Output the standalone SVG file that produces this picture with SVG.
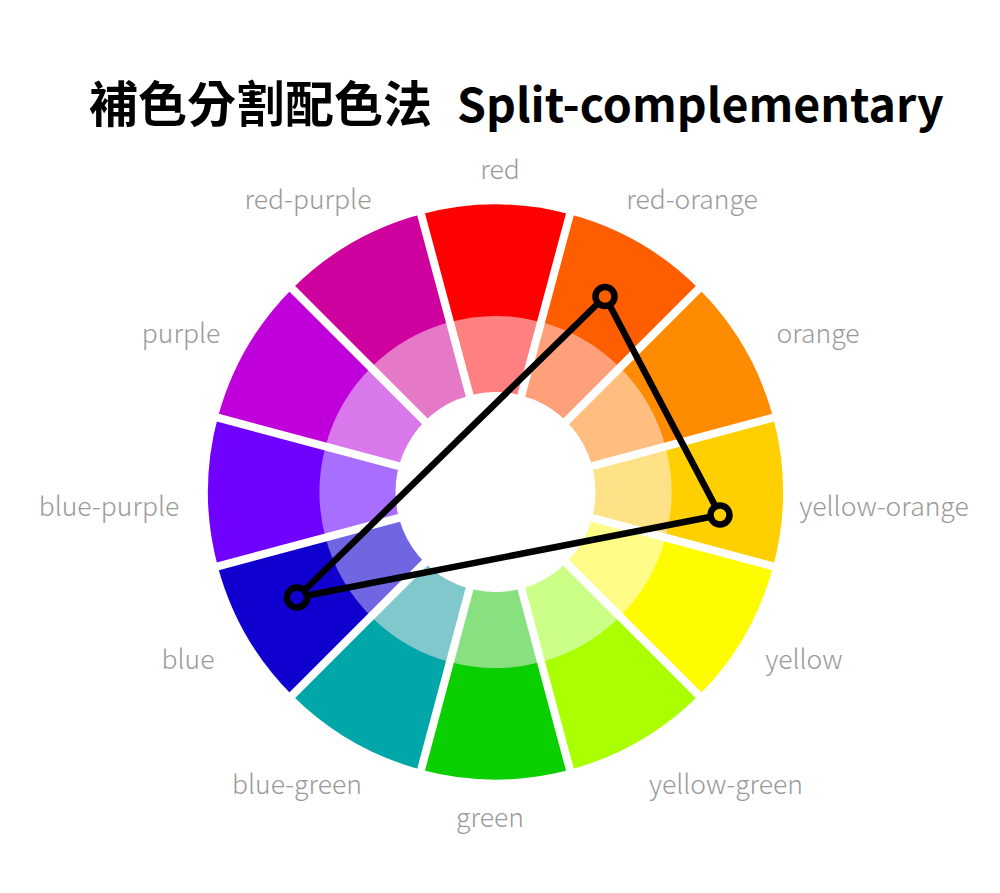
<svg xmlns="http://www.w3.org/2000/svg" width="1000" height="893" viewBox="0 0 1000 893">
<style>
.title{font-family:"Noto Sans CJK TC","Noto Sans CJK JP","Liberation Sans",sans-serif;font-weight:700;font-size:49px;fill:#000}
.lat{font-size:46.5px}
.lbl{font-family:"Noto Sans CJK JP","Noto Sans",sans-serif;font-weight:300;font-size:26.5px;fill:#9a9a9a;text-anchor:middle}
.gap{stroke:#fff;stroke-width:8;fill:none}
.tri{stroke:#000;stroke-width:6.5;fill:none;stroke-linejoin:round}
.pt{stroke:#000;stroke-width:6.5}
</style>
<rect width="1000" height="893" fill="#fff"/>
<text class="title" x="89" y="122">補色分割配色法<tspan class="lat" x="457">Split-complementary</tspan></text>

<g id="wheel">
<g id="seg-red"><path d="M495.5 492L421.09 214.3A287.5 287.5 0 0 1 569.91 214.3Z" fill="#FF0000"/><path d="M495.5 492L449.95 322A176 176 0 0 1 541.05 322Z" fill="#FF8080"/></g>
<g id="seg-red-orange"><path d="M495.5 492L569.91 214.3A287.5 287.5 0 0 1 698.79 288.71Z" fill="#FF5E00"/><path d="M495.5 492L541.05 322A176 176 0 0 1 619.95 367.55Z" fill="#FFA07A"/></g>
<g id="seg-orange"><path d="M495.5 492L698.79 288.71A287.5 287.5 0 0 1 773.2 417.59Z" fill="#FF8C00"/><path d="M495.5 492L619.95 367.55A176 176 0 0 1 665.5 446.45Z" fill="#FFBE80"/></g>
<g id="seg-yellow-orange"><path d="M495.5 492L773.2 417.59A287.5 287.5 0 0 1 773.2 566.41Z" fill="#FFCF00"/><path d="M495.5 492L665.5 446.45A176 176 0 0 1 665.5 537.55Z" fill="#FFE187"/></g>
<g id="seg-yellow"><path d="M495.5 492L773.2 566.41A287.5 287.5 0 0 1 698.79 695.29Z" fill="#FFFC00"/><path d="M495.5 492L665.5 537.55A176 176 0 0 1 619.95 616.45Z" fill="#FFFD88"/></g>
<g id="seg-yellow-green"><path d="M495.5 492L698.79 695.29A287.5 287.5 0 0 1 569.91 769.7Z" fill="#AAFF00"/><path d="M495.5 492L619.95 616.45A176 176 0 0 1 541.05 662Z" fill="#CCFF88"/></g>
<g id="seg-green"><path d="M495.5 492L569.91 769.7A287.5 287.5 0 0 1 421.09 769.7Z" fill="#0ACF00"/><path d="M495.5 492L541.05 662A176 176 0 0 1 449.95 662Z" fill="#88E080"/></g>
<g id="seg-blue-green"><path d="M495.5 492L421.09 769.7A287.5 287.5 0 0 1 292.21 695.29Z" fill="#00A6A8"/><path d="M495.5 492L449.95 662A176 176 0 0 1 371.05 616.45Z" fill="#80C8CB"/></g>
<g id="seg-blue"><path d="M495.5 492L292.21 695.29A287.5 287.5 0 0 1 217.8 566.41Z" fill="#1000D0"/><path d="M495.5 492L371.05 616.45A176 176 0 0 1 325.5 537.55Z" fill="#7066E2"/></g>
<g id="seg-blue-purple"><path d="M495.5 492L217.8 566.41A287.5 287.5 0 0 1 217.8 417.59Z" fill="#7000FF"/><path d="M495.5 492L325.5 537.55A176 176 0 0 1 325.5 446.45Z" fill="#A86EFF"/></g>
<g id="seg-purple"><path d="M495.5 492L217.8 417.59A287.5 287.5 0 0 1 292.21 288.71Z" fill="#C000DB"/><path d="M495.5 492L325.5 446.45A176 176 0 0 1 371.05 367.55Z" fill="#D878EA"/></g>
<g id="seg-red-purple"><path d="M495.5 492L292.21 288.71A287.5 287.5 0 0 1 421.09 214.3Z" fill="#CE009E"/><path d="M495.5 492L371.05 367.55A176 176 0 0 1 449.95 322Z" fill="#E678C8"/></g>
<g id="gaps">
<line class="gap" x1="417.85" y1="202.22" x2="573.15" y2="781.78"/>
<line class="gap" x1="573.15" y1="202.22" x2="417.85" y2="781.78"/>
<line class="gap" x1="707.63" y1="279.87" x2="283.37" y2="704.13"/>
<line class="gap" x1="785.28" y1="414.35" x2="205.72" y2="569.65"/>
<line class="gap" x1="785.28" y1="569.65" x2="205.72" y2="414.35"/>
<line class="gap" x1="707.63" y1="704.13" x2="283.37" y2="279.87"/>
</g>
<circle id="hole" cx="495.5" cy="492" r="100" fill="#fff"/>
</g>

<g id="labels">
<text class="lbl" x="500" y="179">red</text>
<text class="lbl" x="692" y="209">red-orange</text>
<text class="lbl" x="818" y="343">orange</text>
<text class="lbl" x="884" y="516">yellow-orange</text>
<text class="lbl" x="804" y="669">yellow</text>
<text class="lbl" x="726" y="794">yellow-green</text>
<text class="lbl" x="490" y="827">green</text>
<text class="lbl" x="297" y="794">blue-green</text>
<text class="lbl" x="188" y="669">blue</text>
<text class="lbl" x="109" y="516">blue-purple</text>
<text class="lbl" x="181" y="343">purple</text>
<text class="lbl" x="308" y="209">red-purple</text>
</g>

<g id="connectors">
<path class="tri" d="M605 296.5L720 515L297 597.5Z"/>
</g>
<g id="points">
<circle id="pt-red-orange" class="pt" cx="605" cy="296.5" r="9.5" fill="#FF5E00"/>
<circle id="pt-yellow-orange" class="pt" cx="720" cy="515" r="9.5" fill="#FFCF00"/>
<circle id="pt-blue" class="pt" cx="297" cy="597.5" r="10" fill="#1000D0" stroke-width="10"/>
</g>
</svg>
